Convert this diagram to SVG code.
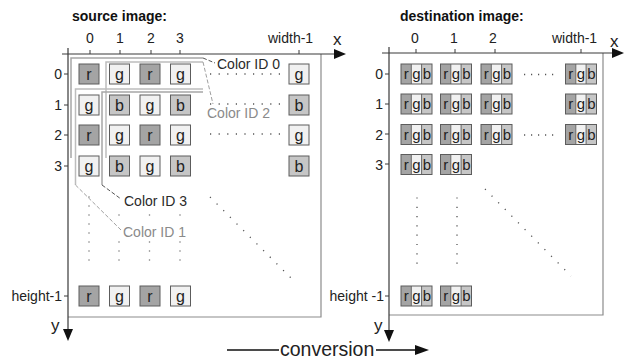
<svg xmlns="http://www.w3.org/2000/svg" xmlns:xlink="http://www.w3.org/1999/xlink" width="625" height="360" viewBox="0 0 625 360">
<style>
text{font-family:"Liberation Sans",Arial,sans-serif;fill:#222}
.title{font-size:14px;font-weight:bold;fill:#111}
.ax{font-size:14px}
.axl{font-size:17px}
.pl{font-size:16px;text-anchor:middle}
.pls{font-size:15px;text-anchor:middle}
.cr{fill:#a4a4a4}
.cg{fill:#f1f1f1}
.cb{fill:#c6c6c6}
.sq{stroke:#5c5c5c;stroke-width:1}
.axis{stroke:#3a3a3a;stroke-width:1.2;fill:none}
.frame{stroke:#8c8c8c;stroke-width:1.2;fill:none}
.tick{stroke:#3a3a3a;stroke-width:1}
.dots{stroke:#555;stroke-width:1.3;fill:none}
.br0{stroke:#a6a6a6;stroke-width:1.5;fill:none}
.br1{stroke:#bdbdbd;stroke-width:1.5;fill:none}
.ld0{stroke:#555;stroke-width:1;stroke-dasharray:4 2;fill:none}
.ld1{stroke:#a0a0a0;stroke-width:1;stroke-dasharray:4 2;fill:none}
.lab0{font-size:14px;fill:#2a2a2a}
.lab1{font-size:14px;fill:#8a8a8a}
</style>
<defs>
<g id="sr"><rect class="cr sq" x="0" y="0" width="20" height="20"/><text class="pl" x="10" y="15.5">r</text></g>
<g id="sg"><rect class="cg sq" x="0" y="0" width="20" height="20"/><text class="pl" x="10" y="15.5">g</text></g>
<g id="sb"><rect class="cb sq" x="0" y="0" width="20" height="20"/><text class="pl" x="10" y="15.5">b</text></g>
<g id="rgb">
<rect class="cr" x="0" y="0" width="10.3" height="20"/>
<rect class="cg" x="10.3" y="0" width="10.3" height="20"/>
<rect class="cb" x="20.6" y="0" width="10.4" height="20"/>
<path d="M10.3 0V20M20.6 0V20" stroke="#666" stroke-width="1"/>
<rect x="0" y="0" width="31" height="20" fill="none" stroke="#5c5c5c" stroke-width="1"/>
<text class="pls" x="5.2" y="15">r</text><text class="pls" x="15.5" y="15">g</text><text class="pls" x="25.8" y="15">b</text>
</g>
</defs>

<text class="title" x="72" y="21">source image:</text>
<text class="title" x="400" y="21">destination image:</text>

<g id="source-axes">
<path class="frame" d="M321 54V317H68"/>
<path class="axis" d="M62 54H335M68 48V330"/>
<polygon points="346,54 334,49 334,59" fill="#111"/>
<polygon points="68,341 63,329 73,329" fill="#111"/>
<path class="tick" d="M90 50V54M120 50V54M151 50V54M180 50V54M299 50V54M64 74H68M64 105H68M64 135H68M64 166H68M64 296H68"/>
<g class="ax">
<text x="90" y="43" text-anchor="middle">0</text>
<text x="120" y="43" text-anchor="middle">1</text>
<text x="151" y="43" text-anchor="middle">2</text>
<text x="180" y="43" text-anchor="middle">3</text>
<text x="268" y="43">width-1</text>
<text x="62" y="79" text-anchor="end">0</text>
<text x="62" y="110" text-anchor="end">1</text>
<text x="62" y="140" text-anchor="end">2</text>
<text x="62" y="171" text-anchor="end">3</text>
<text x="62" y="301" text-anchor="end">height-1</text>
</g>
<text class="axl" x="333" y="45">x</text>
<text class="axl" x="51" y="331">y</text>
</g>

<g id="source-pixels">
<use xlink:href="#sr" x="79" y="64"/><use xlink:href="#sg" x="109.5" y="64"/><use xlink:href="#sr" x="140" y="64"/><use xlink:href="#sg" x="170.5" y="64"/><use xlink:href="#sg" x="289" y="64"/>
<use xlink:href="#sg" x="79" y="95"/><use xlink:href="#sb" x="109.5" y="95"/><use xlink:href="#sg" x="140" y="95"/><use xlink:href="#sb" x="170.5" y="95"/><use xlink:href="#sb" x="289" y="95"/>
<use xlink:href="#sr" x="79" y="125"/><use xlink:href="#sg" x="109.5" y="125"/><use xlink:href="#sr" x="140" y="125"/><use xlink:href="#sg" x="170.5" y="125"/><use xlink:href="#sg" x="289" y="125"/>
<use xlink:href="#sg" x="79" y="156"/><use xlink:href="#sb" x="109.5" y="156"/><use xlink:href="#sg" x="140" y="156"/><use xlink:href="#sb" x="170.5" y="156"/><use xlink:href="#sb" x="289" y="156"/>
<use xlink:href="#sr" x="79" y="286"/><use xlink:href="#sg" x="109.5" y="286"/><use xlink:href="#sr" x="140" y="286"/><use xlink:href="#sg" x="170.5" y="286"/>
</g>

<g id="source-dots" class="dots">
<path d="M210 74H280M210 104H280M210 134H280" stroke-dasharray="1.2 7.4"/>
<path d="M89 196.4V261" stroke-dasharray="1.2 7.8"/>
<path d="M119 214.4V216M149.5 214.4V216M180 214.4V216M119 241.4V261M149.5 241.4V261M180 241.4V261" stroke-dasharray="1.2 7.8"/>
<path d="M210 197L296 283" stroke-dasharray="1.2 8.2"/>
</g>

<g id="color-id-0"><path class="br0" d="M71 158V58H203"/><text class="lab0" x="217" y="69">Color ID 0</text></g>
<g id="color-id-2"><path class="br1" d="M106 158V62H203"/><text class="lab1" x="207" y="118">Color ID 2</text></g>
<g id="color-id-1"><path class="br1" d="M75.5 185V89H203"/><text class="lab1" x="123" y="237">Color ID 1</text></g>
<g id="color-id-3"><path class="br0" d="M102 185V92H203"/><text class="lab0" x="124" y="206">Color ID 3</text></g>

<g id="dest-axes">
<path class="frame" d="M603 53V315H389"/>
<path class="axis" d="M382 53H612M389 47V331"/>
<polygon points="624,53 612,48 612,58" fill="#111"/>
<polygon points="389,342 384,330 394,330" fill="#111"/>
<path class="tick" d="M416 49V53M455 49V53M495 49V53M581 49V53M385 74H389M385 104H389M385 134H389M385 164H389M385 296H389"/>
<g class="ax">
<text x="415" y="43" text-anchor="middle">0</text>
<text x="454" y="43" text-anchor="middle">1</text>
<text x="493" y="43" text-anchor="middle">2</text>
<text x="552" y="43">width-1</text>
<text x="383" y="79" text-anchor="end">0</text>
<text x="383" y="109" text-anchor="end">1</text>
<text x="383" y="140" text-anchor="end">2</text>
<text x="383" y="170" text-anchor="end">3</text>
<text x="384" y="301" text-anchor="end">height -1</text>
</g>
<text class="axl" x="610" y="47">x</text>
<text class="axl" x="374" y="331">y</text>
</g>

<g id="dest-pixels">
<use xlink:href="#rgb" x="401" y="64"/><use xlink:href="#rgb" x="440.5" y="64"/><use xlink:href="#rgb" x="481" y="64"/><use xlink:href="#rgb" x="565.5" y="64"/>
<use xlink:href="#rgb" x="401" y="94"/><use xlink:href="#rgb" x="440.5" y="94"/><use xlink:href="#rgb" x="481" y="94"/><use xlink:href="#rgb" x="565.5" y="94"/>
<use xlink:href="#rgb" x="401" y="124.5"/><use xlink:href="#rgb" x="440.5" y="124.5"/><use xlink:href="#rgb" x="481" y="124.5"/><use xlink:href="#rgb" x="565.5" y="124.5"/>
<use xlink:href="#rgb" x="401" y="154.5"/><use xlink:href="#rgb" x="440.5" y="154.5"/>
<use xlink:href="#rgb" x="401" y="286"/><use xlink:href="#rgb" x="440.5" y="286"/>
</g>

<g id="dest-dots" class="dots">
<path d="M524 74.5H554M524 135H554" stroke-dasharray="1.2 5.8"/>
<path d="M417 197.4V265M457 197.4V265" stroke-dasharray="1.2 8.1"/>
<path d="M485 189L571 276" stroke-dasharray="1.2 8.2"/>
</g>

<g id="connectors">
<path class="ld0" d="M203 58L215 63"/>
<path class="ld1" d="M203 62L213 104"/>
<path class="ld0" d="M102 185L121 199"/>
<path class="ld1" d="M75.5 185L121 230"/>
<path d="M227 350H279M376 350H416" stroke="#111" stroke-width="1.5"/>
<polygon points="429,350 415,345 415,355" fill="#111"/>
</g>
<text x="280" y="356" style="font-size:19.5px" fill="#111">conversion</text>
</svg>
